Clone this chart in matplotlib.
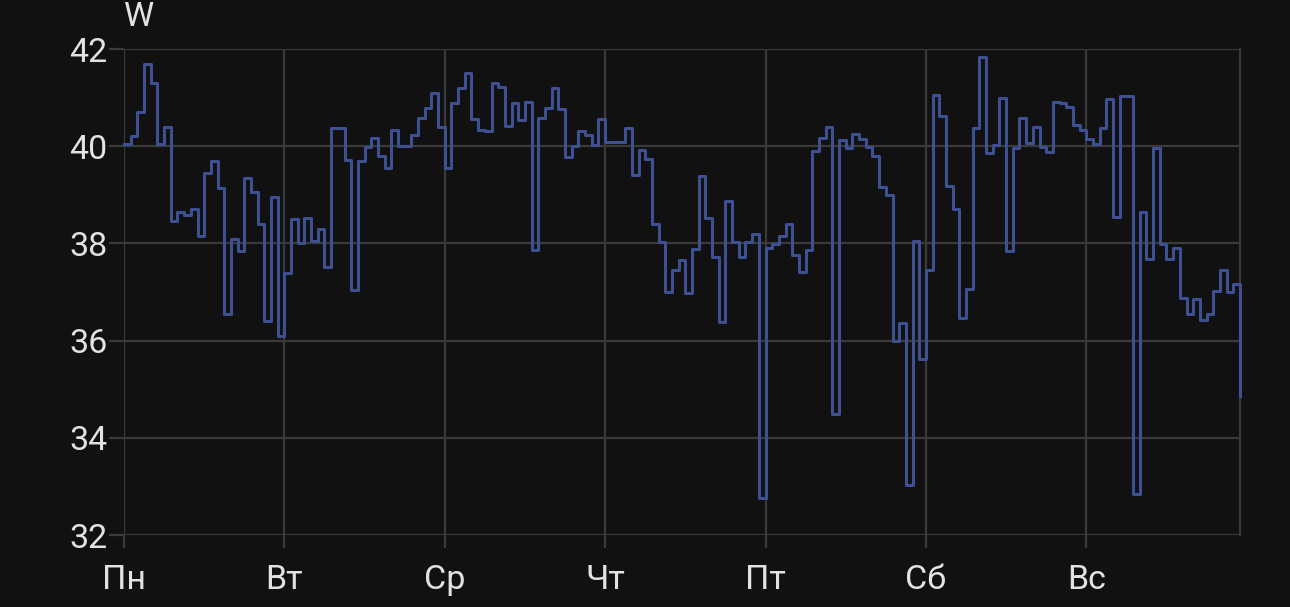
import numpy as np
import matplotlib
matplotlib.use('Agg')
import matplotlib.pyplot as plt

# hourly power readings, Mon 00:00 .. Sun 23:00
mon = [40.05, 40.2, 40.7, 41.7, 41.3, 40.05, 40.4, 38.47, 38.65, 38.58, 38.7, 38.15,
       39.45, 39.7, 39.15, 36.55, 38.1, 37.85, 39.35, 39.05, 38.4, 36.4, 38.95, 36.1]
tue = [37.4, 38.5, 38.0, 38.53, 38.05, 38.3, 37.52, 40.37, 40.37, 39.72, 37.05, 39.7,
       39.99, 40.16, 39.8, 39.56, 40.33, 40.0, 40.0, 40.23, 40.58, 40.78, 41.1, 40.4]
wed = [39.55, 40.89, 41.19, 41.51, 40.56, 40.34, 40.32, 41.31, 41.22, 40.41, 40.88, 40.54,
       40.91, 37.87, 40.57, 40.78, 41.19, 40.76, 39.77, 40.0, 40.32, 40.23, 40.02, 40.56]
thu = [40.09, 40.09, 40.09, 40.37, 39.4, 39.93, 39.74, 38.4, 38.02, 37.0, 37.46, 37.65,
       36.98, 37.88, 39.38, 38.53, 37.71, 36.39, 38.88, 38.02, 37.71, 38.02, 38.19, 32.76]
fri = [37.91, 37.98, 38.15, 38.4, 37.77, 37.42, 37.86, 39.9, 40.16, 40.4, 34.49, 40.12,
       39.97, 40.25, 40.14, 39.99, 39.79, 39.16, 39.0, 36.0, 36.37, 33.03, 38.05, 35.63]
sat = [37.45, 41.06, 40.62, 39.19, 38.71, 36.47, 37.06, 40.37, 41.83, 39.85, 40.02, 40.99,
       37.85, 39.97, 40.59, 40.07, 40.39, 39.99, 39.88, 40.9, 40.88, 40.81, 40.43, 40.34]
sun = [40.14, 40.04, 40.37, 40.97, 38.54, 41.03, 41.03, 32.85, 38.64, 37.68, 39.97, 37.99,
       37.68, 37.9, 36.87, 36.55, 36.85, 36.43, 36.54, 37.03, 37.45, 37.01, 37.17, 34.85]

day_labels = ['Пн', 'Вт', 'Ср', 'Чт', 'Пт', 'Сб', 'Вс']
y_ticks = [32, 34, 36, 38, 40, 42]

values = mon + tue + wed + thu + fri + sat + sun
hours = np.arange(len(values))

bg = '#111111'
grid_c = '#3a3a3a'
text_c = '#e2e2e2'
plt.rcParams['font.family'] = ['Roboto', 'DejaVu Sans']

fig = plt.figure(figsize=(12.9, 6.07), dpi=100, facecolor=bg)
ax = fig.add_axes([124 / 1290, 1 - 535 / 607, (1240 - 124) / 1290, (535 - 49) / 607])
ax.set_facecolor(bg)

ax.step(hours, values, where='post', color='#3d5092', lw=2.2, clip_on=False,
        zorder=3, solid_joinstyle='round')

ax.set_xlim(0, hours[-1])
ax.set_ylim(32, 42)
ax.set_xticks(np.arange(0, 168, 24))
ax.set_xticklabels(day_labels)
ax.set_yticks(y_ticks)

ax.grid(True, color=grid_c, lw=1.6)
for side in ['top', 'left', 'bottom']:
    ax.spines[side].set_visible(False)
ax.spines['right'].set_color(grid_c)
ax.spines['right'].set_linewidth(1.6)

ax.tick_params(axis='both', colors=grid_c, labelcolor=text_c, labelsize=24.5, width=1.6)
ax.tick_params(axis='y', length=11, pad=1)
ax.tick_params(axis='x', length=9, pad=12)

fig.text(139 / 1290, 1 - 26 / 607, 'W', color=text_c, fontsize=24.5, ha='center', va='baseline')

fig.savefig('out.png', dpi=100, facecolor=bg)
